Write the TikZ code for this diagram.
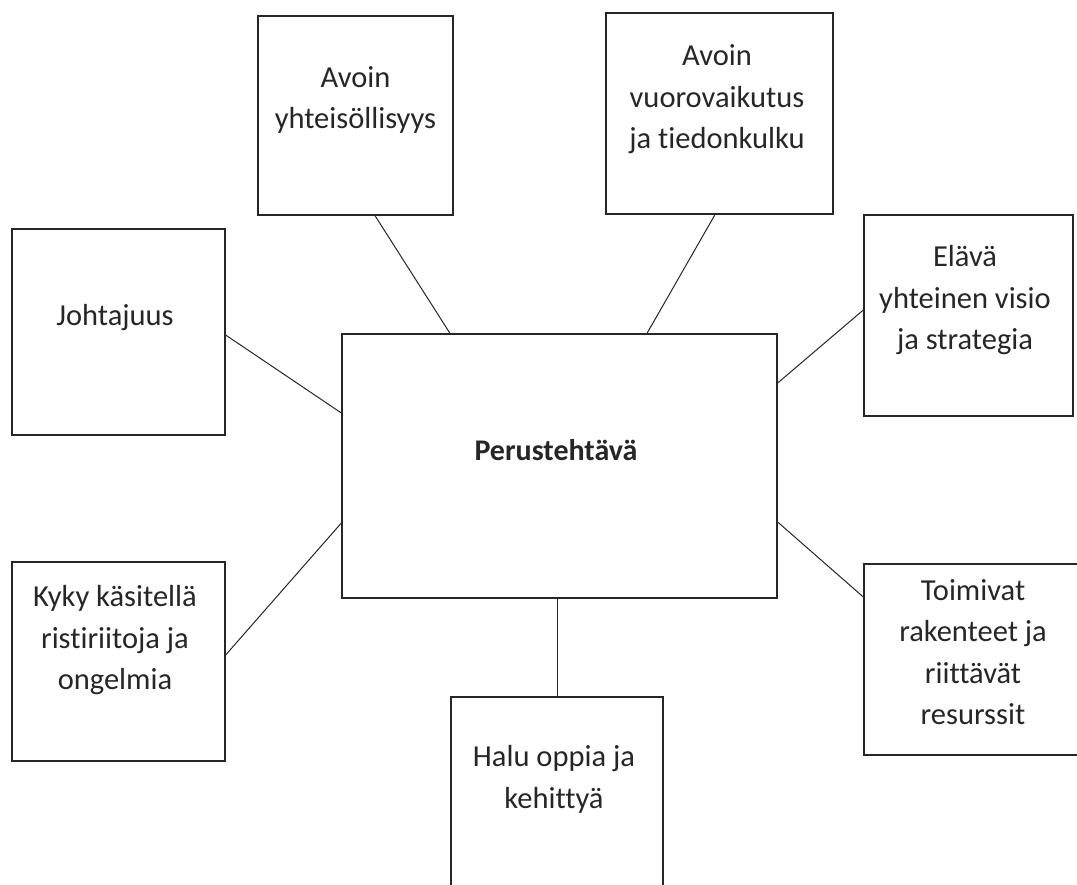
\documentclass[tikz,border=0pt]{standalone}
\usepackage{fontspec}
\setmainfont{Carlito}[Ligatures=NoCommon]

\tikzset{
  box/.style={draw=black!85, line width=1.3pt, inner sep=0pt},
  lbl/.style={align=center, inner sep=0pt, text=black!85,
    font=\fontsize{30.5}{41.5}\selectfont},
  link/.style={draw=black!85, line width=1pt}
}

\begin{document}
\begin{tikzpicture}[x=1pt, y=-1pt]

% Page frame
\useasboundingbox (0,0) rectangle (1077,885);
\clip (0,0) rectangle (1077,885);

% Central box
\node[box, minimum width=435, minimum height=264] (core) at (559.5,466) {};
\node[lbl, font=\fontsize{30}{41.5}\selectfont\bfseries] (coretxt) at (556,450) {Perustehtävä};

% Surrounding boxes
\node[box, minimum width=195, minimum height=199] (yhteis) at (355.5,115.5) {};
\node[box, minimum width=227, minimum height=201] (vuoro) at (719.5,113.5) {};
\node[box, minimum width=213, minimum height=206] (johto) at (118.5,332) {};
\node[box, minimum width=209, minimum height=201] (visio) at (968.5,315.5) {};
\node[box, minimum width=213, minimum height=199] (kyky) at (118.5,661.5) {};
\node[box, minimum width=218, minimum height=191] (rakent) at (973,659.5) {};
\node[box, minimum width=212, minimum height=203] (halu) at (557,798.5) {};

% Labels
\node[lbl] (yhteistxt) at (355.5,99.5) {\strut Avoin\\\strut yhteisöllisyys};
\node[lbl] (vuorotxt) at (717,99) {\strut Avoin\\\strut vuorovaikutus\\\strut ja tiedonkulku};
\node[lbl] (johtotxt) at (115,317) {\strut Johtajuus};
\node[lbl] (visiotxt) at (965,300) {\strut Elävä\\\strut yhteinen visio\\\strut ja strategia};
\node[lbl] (kykytxt) at (115,640) {\strut Kyky käsitellä\\\strut ristiriitoja ja\\\strut ongelmia};
\node[lbl] (rakenttxt) at (973,654) {\strut Toimivat\\\strut rakenteet ja\\\strut riittävät\\\strut resurssit};
\node[lbl] (halutxt) at (554,779) {\strut Halu oppia ja\\\strut kehittyä};

% Connectors to the central box
\draw[link] ([xshift=19.5pt]yhteis.south) -- ([xshift=-109.5pt]core.north);
\draw[link] ([xshift=-4.5pt]vuoro.south) -- ([xshift=87.5pt]core.north);
\draw[link] ([yshift=-3pt]johto.east) -- ([yshift=53pt]core.west);
\draw[link] ([yshift=5.5pt]visio.west) -- ([yshift=83pt]core.east);
\draw[link] ([yshift=6.5pt]kyky.east) -- ([yshift=-57pt]core.west);
\draw[link] ([yshift=62.5pt]rakent.west) -- ([yshift=-56pt]core.east);
\draw[link] (halu.north) -- (halu.north |- core.south);

\end{tikzpicture}
\end{document}
